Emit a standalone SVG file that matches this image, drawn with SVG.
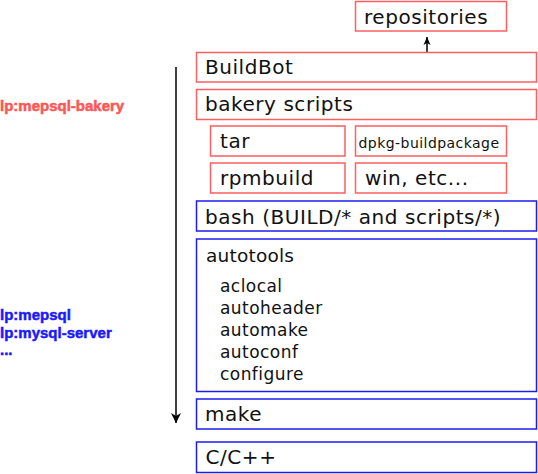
<svg xmlns="http://www.w3.org/2000/svg" width="538" height="474" viewBox="0 0 538 474">
<style>
.r{fill:#fff;stroke:#ff5f5f;stroke-width:1.5}
.b{fill:#fff;stroke:#1c1cf0;stroke-width:1.5}
.t{font-family:"DejaVu Sans",sans-serif;font-size:20px;letter-spacing:0.55px;fill:#111}
.s{font-family:"DejaVu Sans",sans-serif;font-size:17px;letter-spacing:0.45px;fill:#111}
.lbl{font-family:"Liberation Sans",Arial,sans-serif;font-size:15px;font-weight:bold;stroke-width:0.5px}
.c{stroke:#000;stroke-width:1.5;fill:none}
</style>
<defs>
<marker id="ah" viewBox="0 0 10 12" refX="10" refY="6" markerWidth="10" markerHeight="12" markerUnits="userSpaceOnUse" orient="auto">
<path d="M0,1 L10,6 L0,11 L3,6 Z" fill="#000"/>
</marker>
<marker id="ahs" viewBox="0 0 8 8" refX="8" refY="4" markerWidth="8" markerHeight="8" markerUnits="userSpaceOnUse" orient="auto">
<path d="M0,0.5 L8,4 L0,7.5 L2,4 Z" fill="#000"/>
</marker>
</defs>
<g id="labels">
<text class="lbl" x="0" y="110.5" fill="#ff5555" stroke="#ff5555">lp:mepsql-bakery</text>
<text class="lbl" x="0" y="319.5" fill="#1a1aff" stroke="#1a1aff">lp:mepsql</text>
<text class="lbl" x="0" y="337.5" fill="#1a1aff" stroke="#1a1aff">lp:mysql-server</text>
<text class="lbl" x="0" y="355" fill="#1a1aff" stroke="#1a1aff">...</text>
</g>
<g id="connectors">
<line class="c" x1="176" y1="67" x2="176" y2="423" marker-end="url(#ah)"/>
<line class="c" x1="427" y1="52" x2="427" y2="37" marker-end="url(#ahs)"/>
</g>
<g id="repositories"><rect class="r" x="355.5" y="1.5" width="151" height="29.5"/><text class="t" x="364" y="23.5">repositories</text></g>
<g id="buildbot"><rect class="r" x="196.5" y="52.5" width="340" height="29.5"/><text class="t" x="205" y="74">BuildBot</text></g>
<g id="bakery"><rect class="r" x="196.5" y="89.5" width="340" height="30"/><text class="t" x="205" y="111">bakery scripts</text></g>
<g id="tar"><rect class="r" x="210.5" y="126" width="134.5" height="30"/><text class="t" x="220" y="148">tar</text></g>
<g id="dpkg"><rect class="r" x="355.5" y="126" width="151" height="30"/><text class="t" style="font-size:14px;letter-spacing:0.45px" x="358.5" y="148">dpkg-buildpackage</text></g>
<g id="rpmbuild"><rect class="r" x="210.5" y="163" width="134.5" height="30"/><text class="t" x="220" y="185">rpmbuild</text></g>
<g id="win"><rect class="r" x="355.5" y="163" width="151" height="30"/><text class="t" x="365" y="185">win, etc...</text></g>
<g id="bash"><rect class="b" x="196.5" y="201" width="340" height="30"/><text class="t" x="205" y="224">bash (BUILD/* and scripts/*)</text></g>
<g id="autotools"><rect class="b" x="196.5" y="239" width="340" height="152.5"/>
<text class="t" style="font-size:18.5px;letter-spacing:0.2px" x="206" y="262">autotools</text>
<text class="s" x="220" y="292">aclocal</text>
<text class="s" x="220" y="314">autoheader</text>
<text class="s" x="220" y="336">automake</text>
<text class="s" x="220" y="358">autoconf</text>
<text class="s" x="220" y="380">configure</text>
</g>
<g id="make"><rect class="b" x="196.5" y="399" width="340" height="30"/><text class="t" x="205" y="421">make</text></g>
<g id="ccpp"><rect class="b" x="196.5" y="442" width="340" height="30.5"/><text class="t" x="205.5" y="464">C/C++</text></g>
</svg>
